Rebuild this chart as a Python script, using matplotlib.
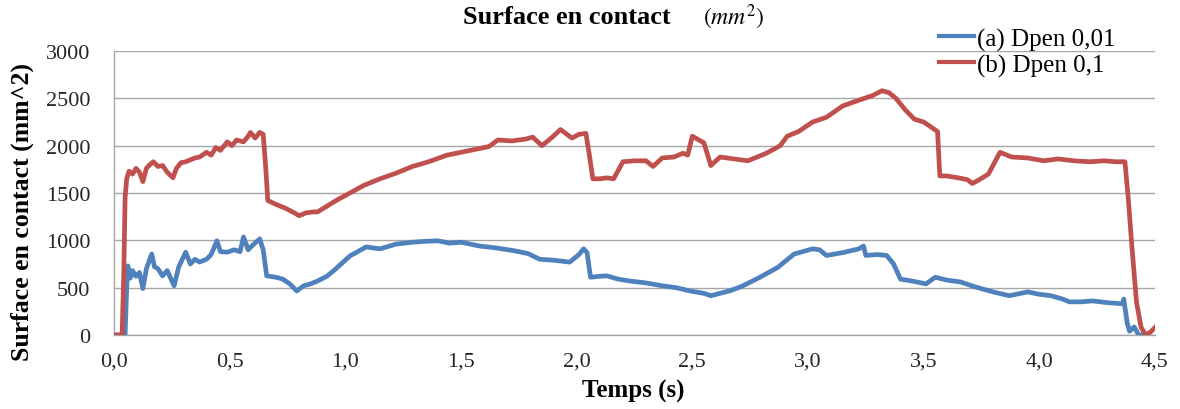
import matplotlib
matplotlib.use("Agg")
import matplotlib.pyplot as plt
import numpy as np

# (time s, area mm^2)
dpen_001 = [
    (0.0, 0), (0.048, 0), (0.055, 500), (0.06, 730), (0.07, 600), (0.08, 680),
    (0.095, 620), (0.11, 660), (0.125, 490), (0.14, 700), (0.163, 855), (0.175, 720),
    (0.19, 700), (0.21, 625), (0.23, 680), (0.245, 600), (0.26, 520), (0.28, 720),
    (0.31, 875), (0.33, 750), (0.35, 800), (0.37, 770), (0.40, 800), (0.42, 850),
    (0.445, 995), (0.46, 880), (0.49, 875), (0.52, 900), (0.545, 880), (0.56, 1035),
    (0.58, 900), (0.60, 950), (0.63, 1015), (0.645, 900), (0.66, 625), (0.70, 610),
    (0.73, 590), (0.76, 540), (0.79, 465), (0.82, 520), (0.85, 540), (0.88, 570),
    (0.92, 620), (0.95, 680), (1.02, 835), (1.09, 930), (1.15, 910), (1.22, 960),
    (1.29, 980), (1.35, 990), (1.40, 995), (1.45, 970), (1.50, 980), (1.58, 940),
    (1.65, 920), (1.73, 890), (1.79, 860), (1.84, 800), (1.90, 790), (1.97, 770),
    (2.01, 850), (2.03, 910), (2.045, 870), (2.06, 610), (2.10, 620), (2.13, 625),
    (2.18, 590), (2.23, 570), (2.30, 550), (2.37, 520), (2.43, 500), (2.49, 465),
    (2.55, 440), (2.58, 415), (2.62, 440), (2.66, 465), (2.71, 510), (2.76, 570),
    (2.80, 620), (2.87, 715), (2.94, 855), (3.02, 910), (3.05, 900), (3.08, 840),
    (3.15, 870), (3.22, 910), (3.24, 940), (3.25, 840), (3.30, 850), (3.34, 840),
    (3.37, 750), (3.40, 590), (3.45, 570), (3.51, 540), (3.55, 610), (3.60, 580),
    (3.66, 560), (3.72, 510), (3.80, 455), (3.87, 415), (3.95, 455), (4.00, 430),
    (4.05, 415), (4.10, 380), (4.13, 350), (4.18, 350), (4.23, 360), (4.30, 340),
    (4.36, 330), (4.365, 380), (4.38, 125), (4.39, 40), (4.41, 85), (4.43, 0),
    (4.46, 0),
]

dpen_01 = [
    (0.0, 0), (0.035, 0), (0.042, 600), (0.048, 1450), (0.055, 1650), (0.065, 1730),
    (0.08, 1700), (0.095, 1760), (0.11, 1720), (0.125, 1620), (0.14, 1760), (0.155, 1800),
    (0.17, 1830), (0.19, 1780), (0.21, 1790), (0.23, 1720), (0.255, 1660), (0.27, 1760),
    (0.29, 1820), (0.31, 1830), (0.33, 1850), (0.35, 1870), (0.37, 1880), (0.40, 1930),
    (0.42, 1900), (0.44, 1980), (0.46, 1950), (0.49, 2040), (0.51, 2000), (0.53, 2060),
    (0.56, 2040), (0.58, 2100), (0.59, 2140), (0.61, 2080), (0.63, 2140), (0.645, 2120),
    (0.655, 1800), (0.665, 1420), (0.70, 1380), (0.74, 1340), (0.78, 1290), (0.80, 1260),
    (0.83, 1290), (0.86, 1300), (0.88, 1300), (0.92, 1360), (0.96, 1420), (1.02, 1500),
    (1.08, 1580), (1.15, 1650), (1.22, 1710), (1.29, 1780), (1.36, 1830), (1.44, 1900),
    (1.50, 1930), (1.58, 1970), (1.62, 1990), (1.66, 2060), (1.72, 2050), (1.78, 2070),
    (1.81, 2090), (1.85, 2000), (1.89, 2080), (1.93, 2170), (1.98, 2080), (2.01, 2120),
    (2.04, 2130), (2.055, 1900), (2.07, 1650), (2.10, 1650), (2.13, 1660), (2.16, 1650),
    (2.20, 1830), (2.25, 1840), (2.30, 1840), (2.33, 1780), (2.37, 1870), (2.42, 1880),
    (2.46, 1920), (2.48, 1900), (2.50, 2100), (2.55, 2030), (2.58, 1790), (2.62, 1880),
    (2.68, 1860), (2.74, 1840), (2.82, 1920), (2.88, 2000), (2.91, 2100), (2.96, 2150),
    (3.02, 2250), (3.08, 2300), (3.15, 2420), (3.22, 2480), (3.28, 2530), (3.32, 2580),
    (3.35, 2560), (3.38, 2500), (3.42, 2380), (3.46, 2280), (3.50, 2250), (3.53, 2200),
    (3.56, 2150), (3.57, 1680), (3.60, 1680), (3.65, 1660), (3.69, 1640), (3.71, 1600),
    (3.74, 1640), (3.78, 1700), (3.83, 1930), (3.88, 1880), (3.95, 1870), (4.02, 1840),
    (4.08, 1860), (4.15, 1840), (4.22, 1830), (4.28, 1840), (4.33, 1830), (4.37, 1830),
    (4.385, 1430), (4.40, 940), (4.42, 350), (4.44, 80), (4.46, 0), (4.48, 30),
    (4.50, 80),
]

series_labels = ["(a) Dpen 0,01", "(b) Dpen 0,1"]
series_colors = ["#4F81BD", "#C0504D"]
y_ticks = [0, 500, 1000, 1500, 2000, 2500, 3000]
x_ticks = [0.0, 0.5, 1.0, 1.5, 2.0, 2.5, 3.0, 3.5, 4.0, 4.5]

plt.rcParams["font.family"] = ["Liberation Serif", "DejaVu Serif"]
plt.rcParams["mathtext.fontset"] = "stix"

fig = plt.figure(figsize=(11.8, 4.1), dpi=100)
ax = fig.add_axes([0.0966, 0.1805, 0.8822, 0.6927])

for data, label, color in zip([dpen_001, dpen_01], series_labels, series_colors):
    arr = np.array(data, dtype=float)
    ax.plot(arr[:, 0], arr[:, 1], color=color, linewidth=3.4, label=label,
            solid_joinstyle="round", zorder=3)

ax.set_xlim(0, 4.5)
ax.set_ylim(0, 3000)
ax.set_yticks(y_ticks)
ax.set_yticklabels([str(v) for v in y_ticks])
ax.set_xticks(x_ticks)
ax.set_xticklabels([f"{v:.1f}".replace(".", ",") for v in x_ticks])
ax.tick_params(axis="both", length=0, labelsize=16, colors="#262626")
ax.tick_params(axis="y", pad=17)
ax.tick_params(axis="x", pad=12)
ax.grid(axis="y", color="#A6A6A6", linewidth=1.0, zorder=0)
ax.set_axisbelow(True)
for side in ["top", "right"]:
    ax.spines[side].set_visible(False)
for side in ["left", "bottom"]:
    ax.spines[side].set_color("#A6A6A6")
    ax.spines[side].set_linewidth(1.0)

fig.text(0.537, 0.046, "Temps (s)", fontsize=18, fontweight="bold",
         ha="center", va="center")
fig.text(0.019, 0.483, "Surface en contact (mm^2)", fontsize=18.5, fontweight="bold",
         rotation=90, ha="center", va="center")

fig.text(0.480, 0.958, "Surface en contact", fontsize=19, fontweight="bold",
         ha="center", va="center")
fig.text(0.596, 0.958, r"$(mm^2)$", fontsize=17, ha="left", va="center")

leg = fig.legend(loc="upper left", bbox_to_anchor=(0.787, 0.955), frameon=False,
                 fontsize=18, handlelength=1.4, handletextpad=0.12, labelspacing=0.12,
                 borderaxespad=0)
for line in leg.get_lines():
    line.set_linewidth(3.0)

fig.savefig("out.png", dpi=100)
